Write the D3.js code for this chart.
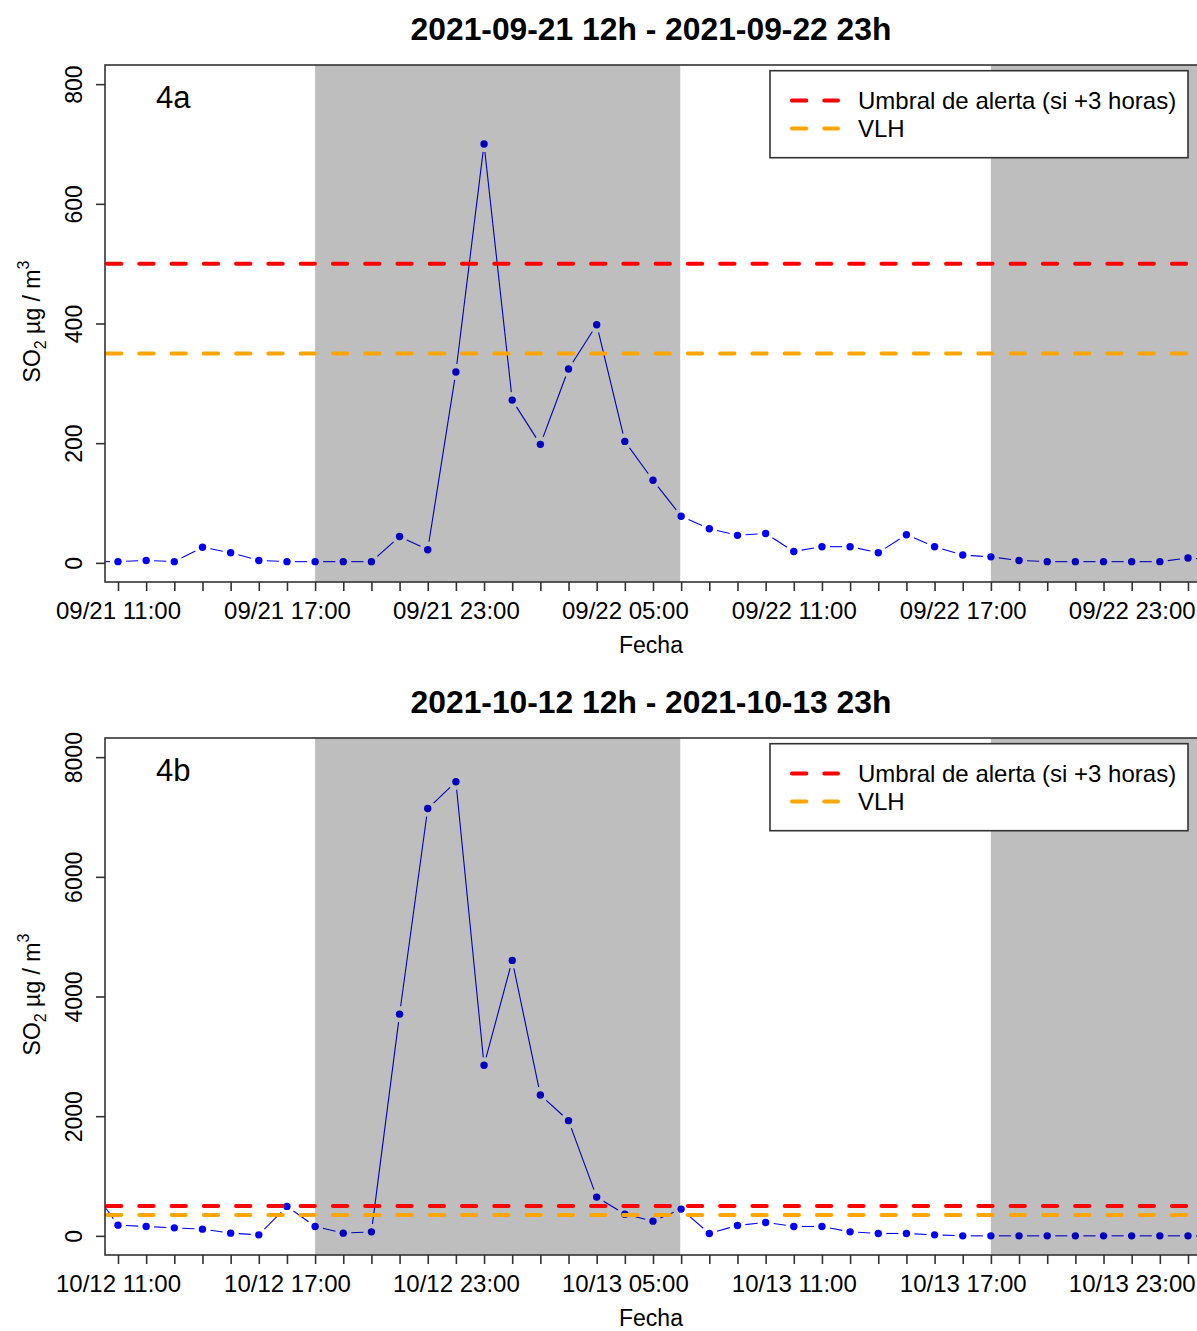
<!DOCTYPE html>
<html><head><meta charset="utf-8">
<script src="https://cdn.jsdelivr.net/npm/d3@7"></script>
<style>
body{margin:0;background:#fff}
text{font-family:"Liberation Sans",Arial,Helvetica,sans-serif;fill:#000}
</style>
</head><body>
<svg id="chart" width="1197" height="1331"></svg>
<script>
// ---------- DATA ----------
const titles = ["2021-09-21 12h - 2021-09-22 23h", "2021-10-12 12h - 2021-10-13 23h"];
const panelLabels = ["4a", "4b"];
// hourly timestamps (first and last fall just outside the plotted window)
const startA = new Date(2021, 8, 21, 10), endA = new Date(2021, 8, 23, 3);
const startB = new Date(2021, 9, 12, 10), endB = new Date(2021, 9, 14, 3);
// SO2 (µg/m3), 10:00 day 1 .. 02:00 day 3
const valuesA = [2,
  2, 4, 2, 26, 17, 4, 2, 2, 2, 2, 44, 22, 319, 700, 272, 198, 324, 398, 203, 138,
  78, 57, 46, 49, 19, 27, 27, 17, 47, 27, 13, 10, 4, 2, 2, 2, 2, 2, 8,
  5];
const valuesB = [830,
  179, 157, 134, 112, 45, 17, 492, 157, 45, 67, 3705, 7141, 7588, 2852, 4603, 2355, 1925, 648, 363, 246,
  447, 40, 174, 224, 157, 157, 67, 40, 40, 17, 0, 0, 0, 0, 0, 0, 0, 0, 0,
  0];
const yTicksA = [0, 200, 400, 600, 800];
const yTicksB = [0, 2000, 4000, 6000, 8000];
const yLimA = [0, 800];
const yLimB = [0, 8000];
// night periods (shaded)
const nightsA = [[new Date(2021, 8, 21, 18), new Date(2021, 8, 22, 6, 58)],
                 [new Date(2021, 8, 22, 18), new Date(2021, 8, 23, 6, 58)]];
const nightsB = [[new Date(2021, 9, 12, 18), new Date(2021, 9, 13, 6, 58)],
                 [new Date(2021, 9, 13, 18), new Date(2021, 9, 14, 6, 58)]];
const thresholdNames = ["Umbral de alerta (si +3 horas)", "VLH"];
const thresholdValues = [500, 350];
const thresholdColors = ["#FF0000", "#FFA500"];
const xTitle = "Fecha";

// ---------- LAYOUT ----------
const svg = d3.select("#chart");
svg.append("rect").attr("width", 1197).attr("height", 1331).attr("fill", "#fff");
const L = 105, R = 1199, H = 517;
const frameColor = "#333";
const fontSize = 23;

const panels = [
  {top: 65, title: titles[0], label: panelLabels[0], times: d3.timeHour.range(startA, endA),
   values: valuesA, yTicks: yTicksA, yLim: yLimA, nights: nightsA},
  {top: 738, title: titles[1], label: panelLabels[1], times: d3.timeHour.range(startB, endB),
   values: valuesB, yTicks: yTicksB, yLim: yLimB, nights: nightsB}
];

panels.forEach((p, pi) => {
  const T = p.top, B = T + H;
  const tickTimes = p.times.slice(1, p.times.length - 1);
  const x = d3.scaleTime()
    .domain([tickTimes[0], tickTimes[tickTimes.length - 1]])
    .range([118, 1188]);
  const pad = (p.yLim[1] - p.yLim[0]) * 0.04;
  const y = d3.scaleLinear().domain([p.yLim[0] - pad, p.yLim[1] + pad]).range([B, T]);

  const g = svg.append("g");
  const clipId = "clip" + pi;
  g.append("clipPath").attr("id", clipId)
    .append("rect").attr("x", L).attr("y", T).attr("width", R - L).attr("height", H);
  const plot = g.append("g").attr("clip-path", `url(#${clipId})`);

  // data: line with gaps around points (type "b")
  const pts = p.times.map((t, i) => [x(t), y(p.values[i])]);
  const gap = 8;
  const segs = [];
  for (let i = 0; i < pts.length - 1; i++) {
    const [x1, y1] = pts[i], [x2, y2] = pts[i + 1];
    const len = Math.hypot(x2 - x1, y2 - y1);
    if (len > 2 * gap) {
      const ux = (x2 - x1) / len, uy = (y2 - y1) / len;
      segs.push([x1 + ux * gap, y1 + uy * gap, x2 - ux * gap, y2 - uy * gap]);
    }
  }
  plot.selectAll("line.seg").data(segs).join("line")
    .attr("class", "seg")
    .attr("x1", d => d[0]).attr("y1", d => d[1]).attr("x2", d => d[2]).attr("y2", d => d[3])
    .attr("stroke", "#0000FF").attr("stroke-width", 1.1);
  plot.selectAll("circle").data(p.times).join("circle")
    .attr("cx", d => x(d)).attr("cy", (d, i) => y(p.values[i]))
    .attr("r", 3.7).attr("fill", "#0000FF");

  // night shading (drawn over data, semi-transparent)
  plot.selectAll("rect.night").data(p.nights).join("rect")
    .attr("class", "night")
    .attr("x", d => Math.max(L, x(d[0])))
    .attr("width", d => Math.min(R, x(d[1])) - Math.max(L, x(d[0])))
    .attr("y", T).attr("height", H)
    .attr("fill", "#000").attr("fill-opacity", 0.255);

  // thresholds
  thresholdValues.forEach((v, k) => {
    plot.append("line")
      .attr("x1", L).attr("x2", R).attr("y1", y(v)).attr("y2", y(v))
      .attr("stroke", thresholdColors[k]).attr("stroke-width", 4)
      .attr("stroke-linecap", "round")
      .attr("stroke-dasharray", "14.3,17.97").attr("stroke-dashoffset", -2);
  });

  // frame
  g.append("rect").attr("x", L).attr("y", T).attr("width", R - L).attr("height", H)
    .attr("fill", "none").attr("stroke", frameColor).attr("stroke-width", 1.6);

  // x axis
  const xAxis = d3.axisBottom(x).tickValues(tickTimes).tickSize(9).tickSizeOuter(0)
    .tickPadding(11)
    .tickFormat((d, i) => i % 6 === 0 ? d3.timeFormat("%m/%d %H:%M")(d) : "");
  const xg = g.append("g").attr("transform", `translate(0,${B})`).call(xAxis);
  xg.select(".domain").remove();
  xg.selectAll("line").attr("stroke", frameColor).attr("stroke-width", 1.6);
  xg.selectAll("text").attr("font-size", 24).attr("fill", "#000")
    .attr("font-family", '"Liberation Sans",Arial,sans-serif');

  // y axis
  const yAxis = d3.axisLeft(y).tickValues(p.yTicks).tickSize(9).tickSizeOuter(0)
    .tickFormat(d3.format("d"));
  const yg = g.append("g").attr("transform", `translate(${L},0)`).call(yAxis);
  yg.select(".domain").remove();
  yg.selectAll("line").attr("stroke", frameColor).attr("stroke-width", 1.6);
  yg.selectAll("text").attr("font-size", fontSize).attr("fill", "#000")
    .attr("font-family", '"Liberation Sans",Arial,sans-serif')
    .attr("x", 0).attr("dy", 0).attr("text-anchor", "middle")
    .attr("transform", "translate(-23,0) rotate(-90)");

  // titles
  g.append("text").attr("x", 651).attr("y", T - 25).attr("text-anchor", "middle")
    .attr("font-size", 31.8).attr("font-weight", "bold").text(p.title);
  g.append("text").attr("x", 651).attr("y", B + 71).attr("text-anchor", "middle")
    .attr("font-size", fontSize).text(xTitle);
  const yl = g.append("text")
    .attr("transform", `translate(40,${(T + B) / 2 - 2}) rotate(-90)`)
    .attr("text-anchor", "middle").attr("font-size", fontSize);
  yl.append("tspan").text("SO");
  yl.append("tspan").attr("font-size", 16).attr("dy", 6).text("2");
  yl.append("tspan").attr("dy", -6).text(" µg / m");
  yl.append("tspan").attr("font-size", 16).attr("dy", -11).text("3");

  g.append("text").attr("x", 156).attr("y", T + 43).attr("font-size", 31).text(p.label);

  // legend
  const lg = g.append("g");
  lg.append("rect").attr("x", 770).attr("y", T + 5.7).attr("width", 418).attr("height", 87)
    .attr("fill", "#fff").attr("stroke", frameColor).attr("stroke-width", 1.6);
  thresholdNames.forEach((name, k) => {
    const ly = T + 35.5 + k * 28;
    lg.append("line").attr("x1", 790).attr("x2", 838).attr("y1", ly).attr("y2", ly)
      .attr("stroke", thresholdColors[k]).attr("stroke-width", 4)
      .attr("stroke-linecap", "round")
      .attr("stroke-dasharray", "14.3,17.97").attr("stroke-dashoffset", -2);
    lg.append("text").attr("x", 858).attr("y", ly).attr("dy", "0.36em")
      .attr("font-size", 24).text(name);
  });
});
</script>
</body></html>
